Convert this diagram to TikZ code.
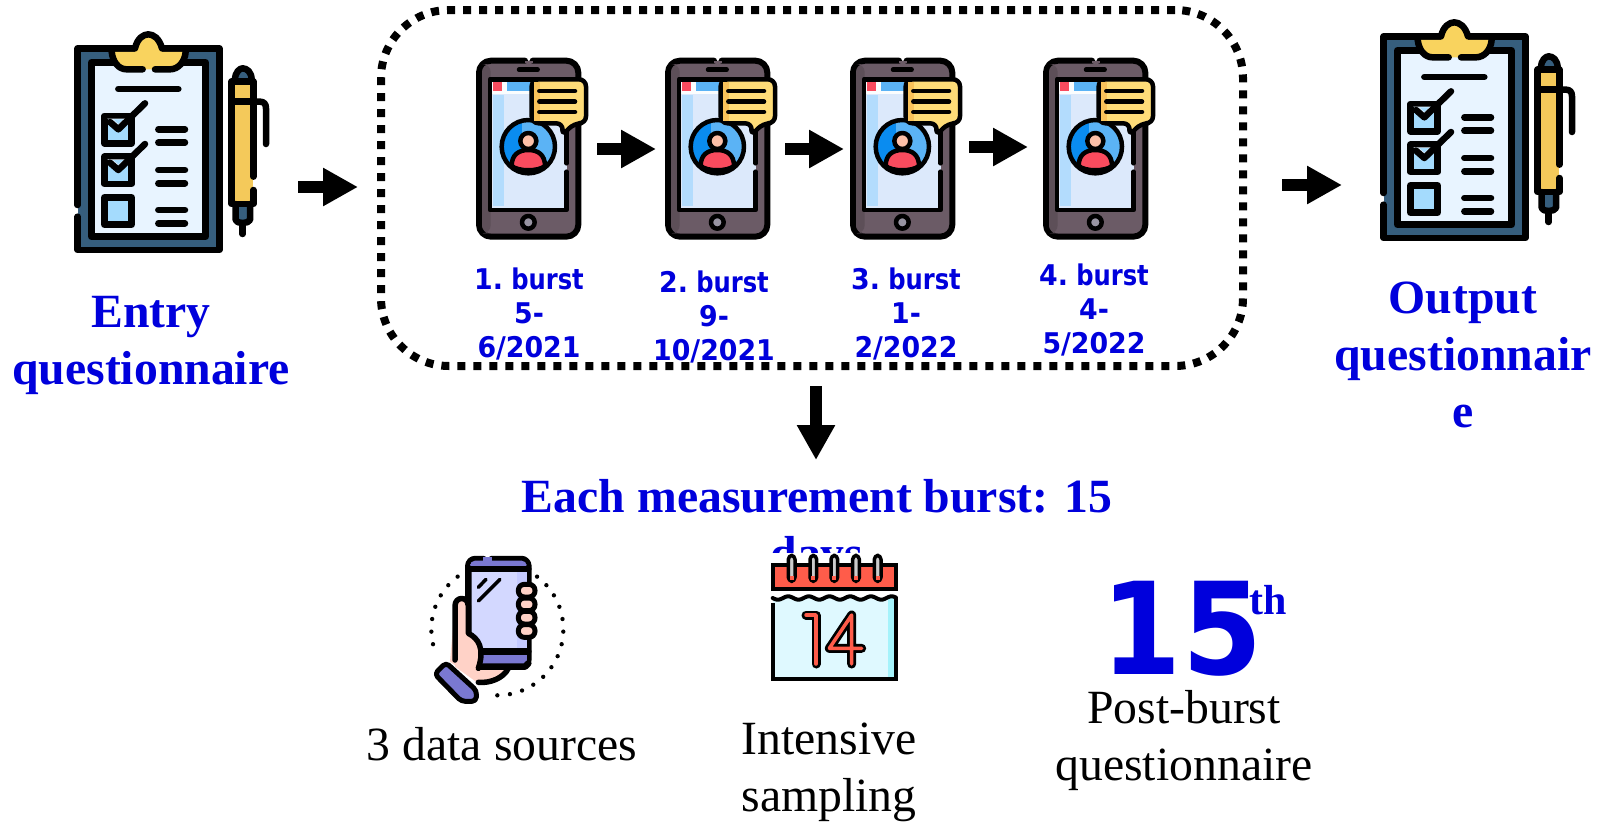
\documentclass[tikz,border=0pt]{standalone}
\usepackage{fontspec}
\setmainfont{Liberation Serif}
\newfontfamily\burstdig[FakeStretch=0.94,WordSpace=0.55]{DejaVu Sans}
\newfontfamily\burstlet[FakeStretch=0.85,WordSpace=0.55]{DejaVu Sans}
\newfontfamily\bigdig[FakeStretch=0.9]{DejaVu Sans}
\usetikzlibrary{arrows.meta}
\definecolor{tblue}{HTML}{0000DC}
\definecolor{board}{HTML}{365E7D}
\definecolor{paperc}{HTML}{E8F4FF}
\definecolor{clipy}{HTML}{F9D35E}
\definecolor{boxb}{HTML}{A4DBFD}
\definecolor{peny}{HTML}{F4C95A}
\definecolor{phoneg}{HTML}{6B5B66}
\definecolor{phoned}{HTML}{5D4F58}
\definecolor{scr}{HTML}{DCE9FB}
\definecolor{scrl}{HTML}{B3DCFD}
\definecolor{redb}{HTML}{F94B5E}
\definecolor{blueb}{HTML}{5BB3F5}
\definecolor{bluec}{HTML}{0A8CF0}
\definecolor{bubble}{HTML}{FEDC78}
\definecolor{bubbled}{HTML}{F9C25A}
\definecolor{skin}{HTML}{FDC0A8}
\definecolor{purp}{HTML}{7A78D1}
\definecolor{lav}{HTML}{D3D8FF}
\definecolor{lavd}{HTML}{C4CAFF}
\definecolor{hand}{HTML}{FFD2C7}
\definecolor{calr}{HTML}{FF5C4A}
\definecolor{calb}{HTML}{DFF9FF}
\definecolor{calc}{HTML}{A5F3FB}
\tikzset{
  blockarrow/.style={line width=11.5pt,-{Triangle[length=35pt,width=36pt]},draw=black},
  dottedframe/.style={draw=black,line width=8pt,dash pattern=on 8pt off 8pt,rounded corners=68pt,outer sep=0pt,inner sep=0pt},
  headtext/.style={font=\fontsize{47.7}{57}\selectfont\bfseries,text=tblue,align=center,inner sep=0pt},
  bursttext/.style={font=\fontsize{28.5}{34}\selectfont\burstdig\bfseries,text=tblue,align=center,inner sep=0pt},
  plaintext/.style={font=\fontsize{47.7}{57}\selectfont,text=black,align=center,inner sep=0pt},
  ol/.style={draw=black,line width=6.5pt,line cap=round,line join=round},
  thin ol/.style={draw=black,line width=4.5pt,line cap=round,line join=round},
  zoomed/.style={x=0.33333pt,y=-0.33333pt}
}
\newcommand{\bl}[1]{{\burstlet\bfseries #1}}
\newcommand{\clipboardicon}[2]{%
\begin{scope}[shift={(#1,#2)},zoomed]
 \fill[board] (83,85) rectangle (508,690);
 \draw[ol] (83,555) -- (83,85) -- (508,85) -- (508,690) -- (83,690) -- (83,590);
 \draw[ol,fill=paperc] (124,127) rectangle (467,650);
 \path[fill=clipy] (188,95) -- (255,95) .. controls (262,60) and (280,48) .. (295,48) .. controls (310,48) and (330,60) .. (336,95) -- (405,95) .. controls (405,125) and (385,148) .. (360,148) -- (230,148) .. controls (205,148) and (188,125) .. (188,95) -- cycle;
 \draw[ol] (185,95) .. controls (188,125) and (205,148) .. (230,148) -- (278,148);
 \draw[ol] (315,148) -- (360,148) .. controls (385,148) and (405,125) .. (407,95);
 \draw[ol] (185,85) -- (255,85) .. controls (262,55) and (280,43) .. (295,43) .. controls (310,43) and (328,55) .. (336,85) -- (405,85);
 \draw[ol] (205,207) -- (385,207);
 \foreach \yy/\tick in {288/1,410/1,532/0}{
  \draw[ol,fill=boxb] (163,\yy) rectangle (245,\yy+82);
  \ifnum\tick=1
   \fill[paperc] (172,\yy+8) -- (236,\yy+8) -- (205,\yy+32) -- cycle;
   \fill[boxb] (190,\yy+10) -- (220,\yy+10) -- (205,\yy+24) -- cycle;
   \draw[ol] (180,\yy+18) -- (205,\yy+40) -- (285,\yy-38);
  \fi
 }
 \foreach \yy in {328,368,450,490,570,610}{\draw[ol] (325,\yy) -- (405,\yy);}
 % pen
 \fill[board] (555,180) .. controls (555,155) and (570,145) .. (578,145) .. controls (590,145) and (605,155) .. (605,180) -- cycle;
 \draw[ol] (555,180) .. controls (555,155) and (570,145) .. (578,145) .. controls (590,145) and (605,155) .. (605,180);
 \fill[peny] (545,185) rectangle (610,550);
 \fill[board] (557,550) -- (600,550) -- (600,600) .. controls (595,610) and (560,610) .. (557,600) -- cycle;
 \draw[ol] (610,470) -- (610,185) -- (545,185) -- (545,552) -- (610,552) -- (610,510);
 \draw[ol] (610,245) -- (545,245);
 \draw[ol] (557,552) -- (557,600) .. controls (560,612) and (595,612) .. (600,600) -- (600,552);
 \draw[ol] (578,610) -- (578,642);
 \draw[ol] (610,245) -- (630,245) .. controls (642,245) and (648,252) .. (648,265) -- (648,372);
\end{scope}}
\newcommand{\phoneicon}[2]{%
\begin{scope}[shift={(#1,#2)},zoomed]
 \draw[thin ol,line width=6pt,fill=phoneg,rounded corners=12pt] (225,62) -- (87,62) -- (87,590) -- (385,590) -- (385,62) -- (248,62);
 \fill[phoned,rounded corners=8pt] (96,72) rectangle (122,580);
 \fill[phoneg] (225,62) rectangle (248,70);
 \draw[thin ol] (207,89) -- (263,89);
 \fill[scr] (120,118) rectangle (350,510);
 \fill[white!90!scr] (124,122) rectangle (346,162);
 \fill[scrl] (128,165) rectangle (162,498);
 \fill[redb] (128,125) rectangle (155,152);
 \fill[blueb] (170,125) rectangle (240,152);
 \draw[thin ol] (350,370) -- (350,118) -- (120,118) -- (120,510) -- (350,510) -- (350,395);
 \fill[blueb] (235,320) circle (80);
 \begin{scope}
  \clip (235,320) circle (80);
  \fill[bluec] (150,230) rectangle (215,410);
 \end{scope}
 \draw[thin ol] (235,320) circle (80);
 \draw[thin ol,fill=redb] (185,378) .. controls (185,345) and (205,330) .. (235,330) .. controls (265,330) and (285,345) .. (285,378) .. controls (265,395) and (205,395) .. (185,378) -- cycle;
 \draw[thin ol,fill=skin] (235,303) circle (24);
 \draw[thin ol,fill=bubble,rounded corners=7pt] (245,118) -- (408,118) -- (408,250) -- (372,250) -- (335,288) -- (340,250) -- (245,250) -- cycle;
 \fill[bubbled] (252,126) rectangle (270,243);
 \foreach \yy in {153,185,216}{\draw[thin ol] (268,\yy) -- (375,\yy);}
 \draw[thin ol,fill=scr!40!phoneg] (235,547) circle (19);
\end{scope}}
\begin{document}
\begin{tikzpicture}[x=1pt,y=-1pt]
\useasboundingbox (0,0) rectangle (1608,822);
\fill[white] (0,0) rectangle (1608,822);

\clipboardicon{50}{20}
\clipboardicon{1356}{8}
\phoneicon{450}{40}
\phoneicon{639}{40}
\phoneicon{824}{40}
\phoneicon{1017}{40}

\node[dottedframe,minimum width=862pt,minimum height=356pt,anchor=north west] (frame) at (381,10) {};

\coordinate (a1s) at (298,187); \coordinate (a1e) at (358,187);
\coordinate (a2s) at (597,149); \coordinate (a2e) at (656,149);
\coordinate (a3s) at (785,149); \coordinate (a3e) at (844,149);
\coordinate (a4s) at (969,147); \coordinate (a4e) at (1028,147);
\coordinate (a5s) at (1282,185); \coordinate (a5e) at (1342,185);
\coordinate (a6s) at (816,386); \coordinate (a6e) at (816,460);
\foreach \n in {1,...,6}{\draw[blockarrow] (a\n s) -- (a\n e);}

\node[headtext] (entry) at (151,345) {Entry\\questionnaire};
\node[headtext] (output) at (1463,355) {Output\\questionnair\\e};
\node[headtext] (each) at (817,530) {Each measurement burst: 15\\days};

\node[bursttext] (b1) at (529,314) {1. \bl{burst}\\5-\\6/2021};
\node[bursttext] (b2) at (714,317) {2. \bl{burst}\\9-\\10/2021};
\node[bursttext] (b3) at (906,314) {3. \bl{burst}\\1-\\2/2022};
\node[bursttext] (b4) at (1094,310) {4. \bl{burst}\\4-\\5/2022};

% hand with phone
\begin{scope}[shift={(400,520)},zoomed]
 \foreach \a in {53,42,...,-97}{\fill[black] ({292+198*cos(\a)},{328-198*sin(\a)}) circle (6.5);}
 \foreach \a in {127,138,...,201}{\fill[black] ({292+198*cos(\a)},{328-198*sin(\a)}) circle (6.5);}
 \fill[hand] (150,425) -- (165,255) .. controls (165,228) and (205,228) .. (205,255) -- (205,340) -- (245,440) -- (325,445) .. controls (310,475) and (270,490) .. (235,485) -- cycle;
 \draw[ol,fill=lav,rounded corners=7pt] (250,117) -- (205,117) -- (205,440) -- (385,440) -- (385,117) -- (275,117);
 \fill[lavd] (350,150) rectangle (380,395);
 \fill[purp,rounded corners=5pt] (210,122) rectangle (380,147);
 \fill[purp] (245,395) rectangle (380,435);
 \fill[purp] (250,112) rectangle (275,122);
 \draw[ol] (205,147) -- (385,147);
 \draw[ol] (245,395) -- (385,395);
 \draw[ol] (385,430) -- (375,440) -- (205,440);
 \draw[thin ol,line width=3.5pt] (235,202) -- (258,178);
 \draw[thin ol,line width=3.5pt] (235,243) -- (300,178);
 \foreach \yy in {212,253,293,333}{\draw[ol,line width=5pt,fill=hand,rounded corners=6pt] (355,\yy-19) rectangle (405,\yy+19);}
 \fill[hand] (165,255) -- (205,255) -- (205,340) .. controls (235,355) and (250,385) .. (240,440) -- (235,490) -- (165,440) -- cycle;
 \draw[ol,line width=5.5pt] (165,420) -- (165,258) .. controls (165,228) and (205,228) .. (205,258) -- (205,340) .. controls (235,355) and (255,385) .. (235,445);
 \draw[ol,line width=5.5pt] (325,445) .. controls (310,475) and (270,490) .. (235,487);
 \draw[ol,line width=5pt,fill=purp,rounded corners=4pt] (104,462) -- (138,428) -- (230,512) -- (228,544) -- (184,544) -- cycle;
\end{scope}

% calendar
\begin{scope}[shift={(400,520)},zoomed]
 \fill[white] (1108,100) rectangle (1494,136);
 \fill[calb] (1118,234) rectangle (1488,478);
 \fill[calc] (1465,234) rectangle (1485,474);
 \fill[white] (1118,207) rectangle (1488,234);
 \draw[ol,line width=4pt,line cap=butt,line join=miter] (1118,250) -- (1118,478) -- (1488,478) -- (1488,235);
 \draw[ol,line width=4pt,fill=calr,line join=miter] (1118,135) rectangle (1488,207);
 \draw[ol,line width=4pt] plot[domain=1118:1488,samples=120] (\x,{234+5*sin((\x-1118)*5.8)});
 \foreach \xx in {1175,1240,1303,1368,1433}{
  \draw[ol,line width=3.5pt,fill=black!20,rounded corners=4pt] (\xx-10,106) rectangle (\xx+10,184);
  \fill[calr] (\xx-6,168) rectangle (\xx+6,180);
 }
 \draw[black,line width=9pt,line cap=round,line join=round] (1218,285) -- (1248,285) -- (1248,432);
 \draw[black,line width=9pt,line cap=round,line join=round] (1355,432) -- (1355,285) -- (1288,385) -- (1385,385);
 \draw[calr,line width=3.5pt,line cap=round,line join=round] (1218,285) -- (1248,285) -- (1248,432);
 \draw[calr,line width=3.5pt,line cap=round,line join=round] (1355,432) -- (1355,285) -- (1288,385) -- (1385,385);
\end{scope}

\node[font=\fontsize{128}{128}\selectfont\bigdig\bfseries,text=tblue,inner sep=0pt] (fifteen) at (1182,629) {15};
\node[font=\fontsize{42}{42}\selectfont\bfseries,text=tblue,inner sep=0pt] (th) at (1268,600) {th};

\node[plaintext] (src) at (502,744) {3 data sources};
\node[plaintext] (intens) at (829,772.5) {Intensive\\sampling};
\node[plaintext] (post) at (1184,741) {Post-burst\\questionnaire};
\end{tikzpicture}
\end{document}
